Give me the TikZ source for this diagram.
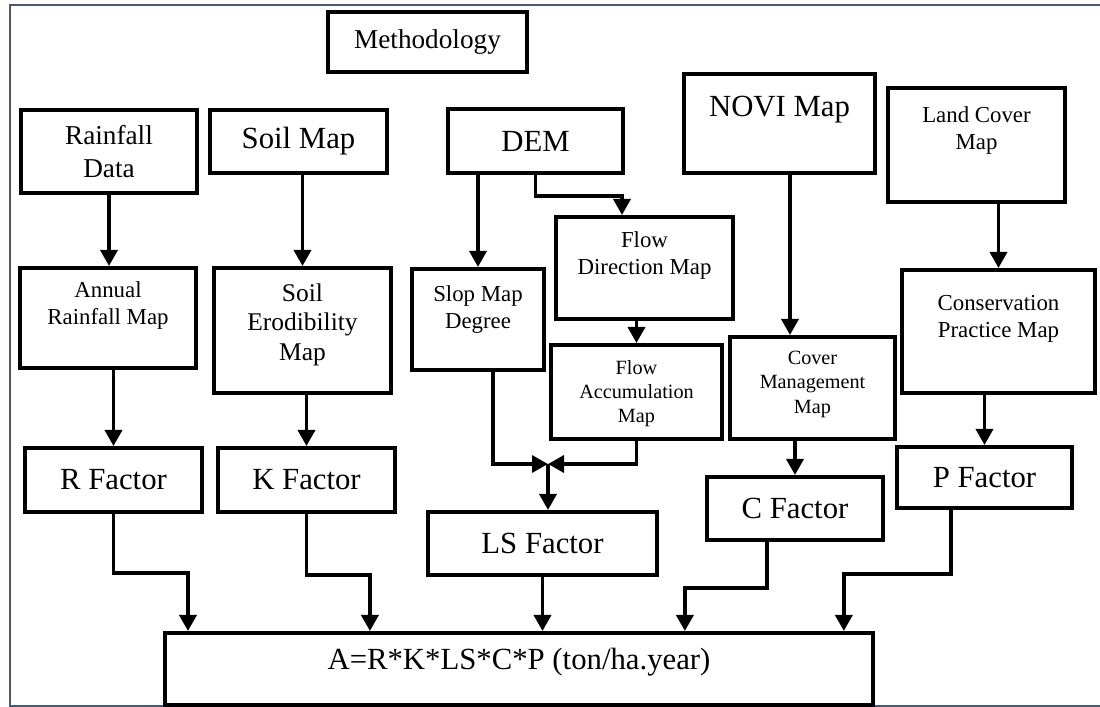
\documentclass[tikz,border=0pt]{standalone}
\usepackage{fontspec}
\setmainfont{Liberation Serif}
\usepackage{tikz}
\usetikzlibrary{arrows.meta, positioning, fit, calc}
\definecolor{framegray}{RGB}{75,90,112}
\tikzset{
    mbox/.style={rectangle, draw=black, line width=2.3pt, inner sep=0pt, align=center},
    toplbl/.style={anchor=north, inner sep=0pt, align=center},
    midlbl/.style={anchor=center, inner sep=0pt, align=center},
    fbig/.style={font=\fontsize{17.5}{21}\selectfont},
    fmid/.style={font=\fontsize{15.5}{18.6}\selectfont},
    fmed/.style={font=\fontsize{14.5}{16.8}\selectfont},
    fsml/.style={font=\fontsize{13}{15.6}\selectfont},
    ftny/.style={font=\fontsize{11.5}{13.8}\selectfont},
    arrow/.style={-{Triangle[length=0.32cm, width=0.34cm]}, line width=2pt, draw=black},
    outline/.style={draw=framegray, line width=1.4pt},
}

\begin{document}
\begin{tikzpicture}[x=0.02cm, y=-0.02cm]
    \useasboundingbox (0,0) rectangle (1100,707);
    \draw[outline] (1100,5) -- (10,5) -- (10,706) -- (1100,706);

    \node[mbox, fit={(328,12) (527,72)},
          label={[midlbl, fmid]center:Methodology}] (meth) {};

    \node[mbox, fit={(21,110) (197,193)},
          label={[midlbl, fmid]center:{Rainfall\\Data}}] (rain) {};
    \node[mbox, fit={(210,110) (387,173)},
          label={[midlbl, fbig]center:Soil Map}] (soil) {};
    \node[mbox, fit={(448,109) (623,173)},
          label={[midlbl, fbig]center:DEM}] (dem) {};
    \node[mbox, fit={(684,74) (875,173)},
          label={[toplbl, fbig, yshift=-0.48cm]north:NOVI Map}] (novi) {};
    \node[mbox, fit={(888,88) (1065,202)},
          label={[toplbl, fsml, yshift=-0.4cm]north:{Land Cover\\Map}}] (land) {};

    \node[mbox, fit={(20,268) (196,368)},
          label={[toplbl, fsml, yshift=-0.3cm]north:{Annual\\Rainfall Map}}] (annual) {};
    \node[mbox, fit={(214,268) (391,393)},
          label={[toplbl, fmed, yshift=-0.34cm]north:{Soil\\Erodibility\\Map}}] (erod) {};
    \node[mbox, fit={(412,269) (544,370)},
          label={[toplbl, fsml, yshift=-0.36cm]north:{Slop Map\\Degree}}] (slop) {};
    \node[mbox, fit={(556,217) (733,319)},
          label={[toplbl, fsml, yshift=-0.32cm]north:{Flow\\Direction Map}}] (fdir) {};
    \node[mbox, fit={(551,345) (722,439)},
          label={[toplbl, ftny, yshift=-0.34cm]north:{Flow\\Accumulation\\Map}}] (facc) {};
    \node[mbox, fit={(730,337) (895,439)},
          label={[toplbl, ftny, yshift=-0.32cm]north:{Cover\\Management\\Map}}] (cover) {};
    \node[mbox, fit={(902,270) (1095,393)},
          label={[toplbl, fsml, yshift=-0.54cm]north:{Conservation\\Practice Map}}] (cons) {};

    \node[mbox, fit={(25,448) (202,512)},
          label={[midlbl, fbig]center:R Factor}] (rfac) {};
    \node[mbox, fit={(218,448) (395,512)},
          label={[midlbl, fbig]center:K Factor}] (kfac) {};
    \node[mbox, fit={(428,512) (657,575)},
          label={[midlbl, fbig]center:LS Factor}] (ls) {};
    \node[mbox, fit={(707,477) (883,540)},
          label={[midlbl, fbig]center:C Factor}] (cfac) {};
    \node[mbox, fit={(897,447) (1072,508)},
          label={[midlbl, fbig]center:P Factor}] (pfac) {};

    \node[mbox, fit={(165,633) (873,705)},
          label={[toplbl, fbig, yshift=-0.34cm]north:A=R*K*LS*C*P (ton/ha.year)}] (usle) {};

    \coordinate (junc) at (548,464);
    \coordinate (novi-out) at ([xshift=0.21cm]novi.south);

    \draw[arrow] (rain.south) -- (rain.south |- annual.north);
    \draw[arrow] (soil.south -| erod.north) -- (erod.north);
    \draw[arrow] (dem.south -| slop.north) -- (slop.north);
    \draw[arrow] (dem.south) -- ++(0,21) -| ([xshift=-0.45cm]fdir.north);
    \draw[arrow] (fdir.south -| facc.north) -- (facc.north);
    \draw[arrow] (novi-out) -- (novi-out |- cover.north);
    \draw[arrow] (land.south -| cons.north) -- (cons.north);

    \draw[arrow] (annual.south -| rfac.north) -- (rfac.north);
    \draw[arrow] (erod.south -| kfac.north) -- (kfac.north);
    \draw[arrow] ([xshift=0.3cm]slop.south) |- (junc);
    \draw[arrow] (facc.south) |- (junc);
    \draw[arrow] (junc) -- (junc |- ls.north);
    \draw[arrow] (cover.south -| cfac.north) -- (cfac.north);
    \draw[arrow] (cons.south -| pfac.north) -- (pfac.north);

    \draw[arrow] (rfac.south) -- ++(0,59) -| ([xshift=0.5cm]usle.north west);
    \draw[arrow] (kfac.south) -- ++(0,61) -| ([xshift=4.14cm]usle.north west);
    \draw[arrow] (ls.south) -- (ls.south |- usle.north);
    \draw[arrow] ([xshift=-0.56cm]cfac.south) -- ++(0,46) -| ([xshift=10.44cm]usle.north west);
    \draw[arrow] ([xshift=-0.67cm]pfac.south) -- ++(0,64) -| ([xshift=13.62cm]usle.north west);
\end{tikzpicture}
\end{document}
